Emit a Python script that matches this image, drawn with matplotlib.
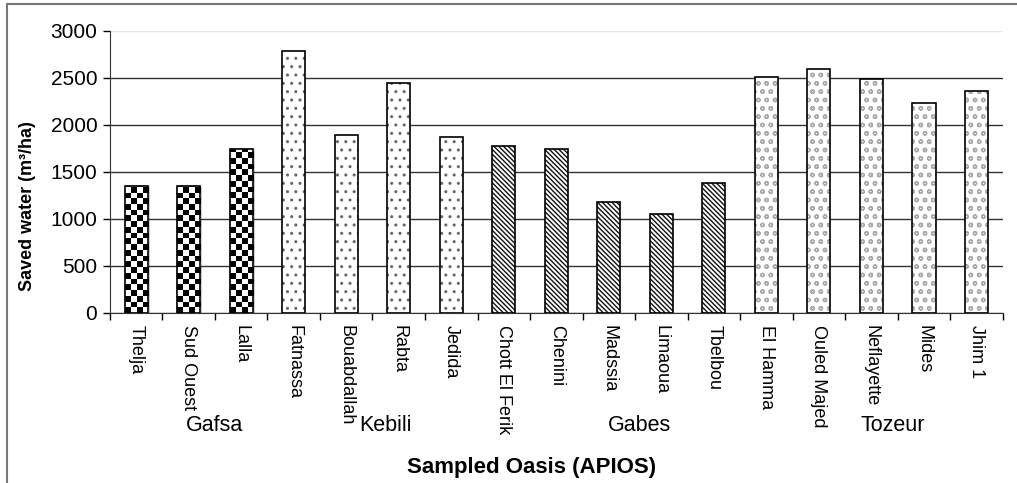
import numpy as np
import matplotlib; matplotlib.use("Agg")
import matplotlib.pyplot as plt
from matplotlib.patches import Rectangle

plt.rcParams["font.family"] = ["Liberation Sans", "DejaVu Sans"]

oasis = ["Thelja", "Sud Ouest", "Lalla", "Fatnassa", "Bouabdallah", "Rabta", "Jedida",
         "Chott El Ferik", "Chenini", "Madssia", "Limaoua", "Tbelbou",
         "El Hamma", "Ouled Majed", "Neflayette", "Mides", "Jhim 1"]
saved = [1350, 1350, 1740, 2790, 1890, 2450, 1870,
         1780, 1740, 1180, 1050, 1380,
         2510, 2600, 2490, 2230, 2360]
region = ["Gafsa"]*3 + ["Kebili"]*4 + ["Gabes"]*5 + ["Tozeur"]*5
regions = ["Gafsa", "Kebili", "Gabes", "Tozeur"]
region_label_x = [1.5, 4.75, 9.59, 14.4]
yticks = [0, 500, 1000, 1500, 2000, 2500, 3000]

hatch = {"Kebili": "..", "Gabes": "\\\\\\\\\\\\\\", "Tozeur": "oo"}
hcol = {"Kebili": "#666666", "Gabes": "#111111", "Tozeur": "#aaaaaa"}

fig = plt.figure(figsize=(10.17, 4.83), dpi=100)
ax = fig.add_axes([0.108, 0.352, 0.878, 0.584])
x = np.arange(len(oasis))
w = 0.44

for i, (v, r) in enumerate(zip(saved, region)):
    if r == "Gafsa":
        b = ax.bar(x[i], v, w, color="white", edgecolor="black", lw=1, zorder=2)[0]
        cx, cy = 0.108, 61.0
        nx = int(np.ceil(w/cx)); ny = int(np.ceil(v/cy))
        ii, jj = np.indices((ny, nx))
        chk = ((ii + jj) % 2).astype(float)
        im = ax.imshow(chk, cmap="gray", extent=(x[i]-w/2, x[i]-w/2+nx*cx, 0, ny*cy),
                       origin="lower", interpolation="nearest", aspect="auto", zorder=2.5)
        im.set_clip_path(b)
        ax.bar(x[i], v, w, fill=False, edgecolor="black", lw=1.2, zorder=3)
    else:
        ax.bar(x[i], v, w, color="white", edgecolor=hcol[r], hatch=hatch[r], lw=0, zorder=2)
        ax.bar(x[i], v, w, fill=False, edgecolor="black", lw=1.2, zorder=3)

ax.set_xlim(-0.5, len(oasis)-0.5)
ax.set_ylim(0, 3000)
ax.set_yticks(yticks)
ax.set_yticklabels([str(t) for t in yticks], fontsize=15)
ax.tick_params(axis="y", length=5, width=1, direction="out", pad=4)
ax.set_axisbelow(True)
ax.yaxis.grid(True, color="#333333", lw=1)
ax.yaxis.get_gridlines()[-1].set_color("#e6e6e6")

ax.set_xticks(x)
ax.set_xticklabels(oasis, rotation=270, fontsize=13, va="top", ha="center")
ax.tick_params(axis="x", which="major", length=0, pad=9)
ax.set_xticks(np.arange(len(oasis)+1)-0.5, minor=True)
ax.tick_params(axis="x", which="minor", length=5, width=1, direction="out")

for s in ["top", "right"]:
    ax.spines[s].set_visible(False)
for s in ["left", "bottom"]:
    ax.spines[s].set_color("#333333")

for name, px in zip(regions, region_label_x):
    ax.text(px, -0.4, name, transform=ax.get_xaxis_transform(),
            ha="center", va="center", fontsize=15.5)

fig.text(532/1017, 1-467/483, "Sampled Oasis (APIOS)", ha="center", va="center",
         fontsize=16, fontweight="bold")
fig.text(28/1017, 1-206/483, "Saved water (m³/ha)", ha="center", va="center",
         rotation=90, fontsize=13, fontweight="bold")

fig.patches.append(Rectangle((7/1017, -0.1), 1.2, 1-4/483+0.1, transform=fig.transFigure,
                             fill=False, edgecolor="#777777", lw=1.5, figure=fig))

fig.savefig("out.png", dpi=100)
